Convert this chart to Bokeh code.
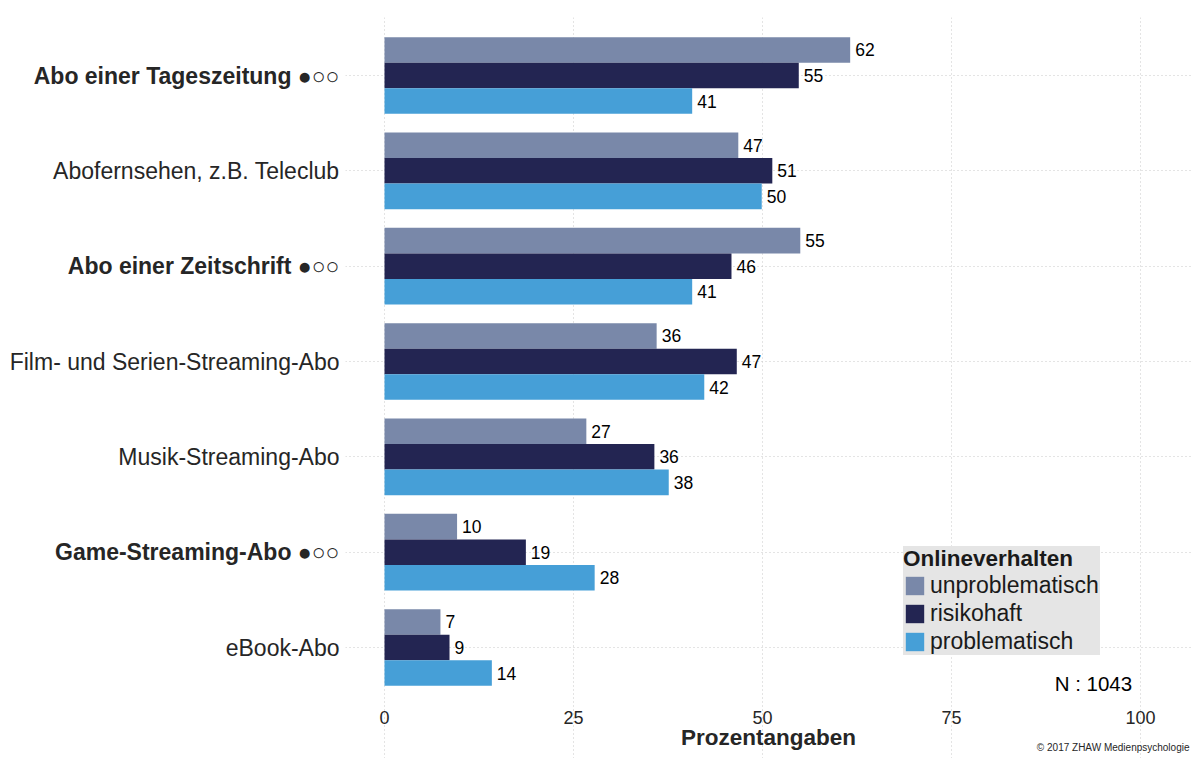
from bokeh.plotting import figure
from bokeh.models import (Range1d, FixedTicker, Label, Legend, LegendItem, ColumnDataSource, Grid)
from bokeh.layouts import row
from bokeh.embed import file_html
from bokeh.resources import INLINE
from bokeh.core.properties import value

# ---- data ----
categories = ["Abo einer Tageszeitung ●○○", "Abofernsehen, z.B. Teleclub", "Abo einer Zeitschrift ●○○",
              "Film- und Serien-Streaming-Abo", "Musik-Streaming-Abo", "Game-Streaming-Abo ●○○", "eBook-Abo"]
bold = [True, False, True, False, False, True, False]
series = ["unproblematisch", "risikohaft", "problematisch"]
unproblematisch = [61.6, 46.8, 55.0, 36.0, 26.7, 9.6, 7.4]
risikohaft = [54.8, 51.3, 45.9, 46.6, 35.7, 18.7, 8.6]
problematisch = [40.7, 49.9, 40.7, 42.3, 37.6, 27.8, 14.2]
colors = ["#7988A9", "#232552", "#469FD7"]
x_ticks = [0, 25, 50, 75, 100]
x_tick_labels = ["0", "25", "50", "75", "100"]
x_title = "Prozentangaben"
n_text = "N : 1043"
copyright_text = "© 2017 ZHAW Medienpsychologie"

FONT = "Liberation Sans"
TXT = "#262626"
W = 1191
H = 758
TOP = 17
LEFT_W = 345
CAT_PX = 95.33        # pixels per category step
LAST_PX = 647         # pixel row of the lowest category centre


def y_at(px):
    """data y for a given pixel row of the page (used only for text placement)."""
    return 1 - (px - LAST_PX) / CAT_PX


n = len(categories)
centers = [n - i for i in range(n)]
yr = Range1d(y_at(H), y_at(TOP))
plot_bottom = y_at(705)   # lower end of the plotting area (grid lines stop here)
xr = Range1d(-5.159, 106.75)

# ---- left panel with category labels ----
pl = figure(width=LEFT_W, height=H, output_backend="svg", toolbar_location=None,
            x_range=Range1d(0, LEFT_W), y_range=yr, x_axis_location=None, y_axis_location=None,
            min_border_left=0, min_border_right=0, min_border_top=TOP, min_border_bottom=0)
pl.outline_line_color = None
for g in pl.grid:
    g.visible = False
lsrc = ColumnDataSource(dict(x=[LEFT_W - 6] * n, y=centers, t=categories,
                             st=["bold" if b else "normal" for b in bold]))
pl.text(x="x", y="y", text="t", source=lsrc, text_align="right", text_baseline="middle",
        text_font=value(FONT), text_font_size="23px", text_font_style="st", text_color=TXT)

# ---- main panel ----
p = figure(width=W - LEFT_W, height=H, output_backend="svg", toolbar_location=None,
           x_range=xr, y_range=yr, x_axis_location=None, y_axis_location=None,
           min_border_left=0, min_border_right=0, min_border_top=TOP, min_border_bottom=0)
p.outline_line_color = None
p.background_fill_color = "white"
for g in p.grid:
    g.visible = False

xg = Grid(dimension=0, ticker=FixedTicker(ticks=x_ticks), bounds=(plot_bottom, y_at(TOP)))
yg = Grid(dimension=1, ticker=FixedTicker(ticks=centers))
for g in (xg, yg):
    g.grid_line_color = "#c8c8c8"
    g.grid_line_dash = "1 3"
    g.grid_line_width = 1
    p.add_layout(g)

bw = 0.268
offsets = [bw, 0.0, -bw]
vals = [unproblematisch, risikohaft, problematisch]
items = []
for s, v, c, off in zip(series, vals, colors, offsets):
    src = ColumnDataSource(dict(y=[cc + off for cc in centers], right=v,
                                lab=[f"{x:.0f}" for x in v]))
    r = p.hbar(y="y", left=0, right="right", height=bw, source=src,
               fill_color=c, line_color=None)
    p.text(x="right", y="y", text="lab", source=src, x_offset=5,
           text_align="left", text_baseline="middle",
           text_font=value(FONT), text_font_size="17.5px", text_color="black")
    items.append(LegendItem(label=s, renderers=[r]))

legend = Legend(items=items, location=(558, H - 655), title="Onlineverhalten",
                title_text_font=FONT, title_text_font_style="bold",
                title_text_font_size="22.5px", title_text_color="#1a1a1a",
                label_text_font=FONT, label_text_font_size="23px", label_text_color="#1a1a1a",
                glyph_width=23, glyph_height=23, label_height=23, label_width=170, label_standoff=4,
                spacing=1, padding=6, margin=0, title_standoff=0,
                background_fill_color="#E5E5E5", background_fill_alpha=1,
                border_line_color=None)
p.add_layout(legend)

p.add_layout(Label(x=98.9, y=y_at(683), text=n_text, text_align="right", text_baseline="middle",
                   text_font=FONT, text_font_size="20.5px", text_color="black"))

# ---- x tick labels, axis title and copyright below the plotting area ----
p.text(x=x_ticks, y=[y_at(716.5)] * len(x_ticks), text=x_tick_labels, text_align="center",
       text_baseline="alphabetic", text_font=value(FONT), text_font_size="18px",
       text_color=TXT)
p.text(x=[(xr.start + xr.end) / 2], y=[y_at(737)], text=[x_title], text_align="center",
       text_baseline="alphabetic", text_font=value(FONT), text_font_size="22.5px",
       text_font_style="bold", text_color=TXT)
p.text(x=[xr.end], y=[y_at(747)], x_offset=-2, text=[copyright_text], text_align="right",
       text_baseline="alphabetic", text_font=value(FONT), text_font_size="10px",
       text_color=TXT)

open("out.html", "w").write(file_html(row(pl, p), INLINE))
